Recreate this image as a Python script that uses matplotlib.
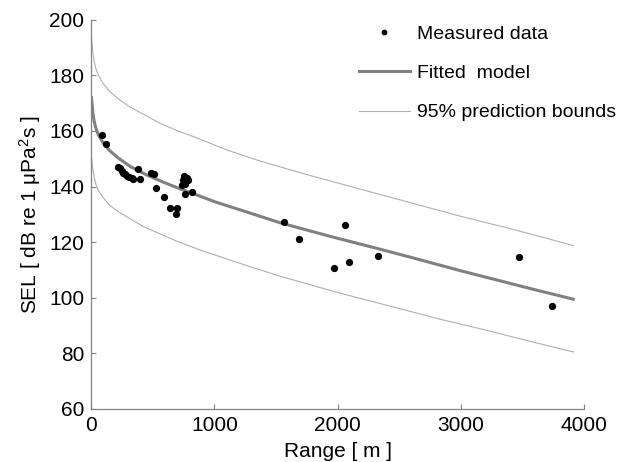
import matplotlib
matplotlib.use('Agg')
import matplotlib.pyplot as plt

# measured data (range m, SEL dB)
meas_range = [87, 122, 221, 235, 249, 262, 276, 289, 311, 330, 343, 378, 400,
              487, 511, 530, 595, 638, 700, 692, 738, 743, 754, 762, 765, 770,
              776, 786, 816, 1565, 1689, 1970, 2062, 2089, 2324, 3468, 3738]
meas_sel = [158.7, 155.3, 147.2, 146.6, 145.7, 145.0, 144.4, 143.8, 143.3, 143.0,
            142.9, 146.3, 142.6, 144.8, 144.5, 139.5, 136.4, 132.4, 132.2, 130.0,
            140.6, 142.4, 143.7, 137.4, 140.9, 142.6, 143.0, 142.4, 138.2, 127.3,
            121.3, 110.7, 126.1, 113.0, 115.0, 114.8, 97.1]

# fitted model
fit_range = [3, 8, 15, 25, 40, 60, 100, 150, 220, 316, 451, 586, 722, 870, 1000,
             1289, 1532, 1965, 2300, 2641, 2992, 3300, 3600, 3911]
fit_sel = [172.0, 170.0, 166.6, 163.6, 161.0, 158.6, 155.6, 153.0, 150.3, 147.3,
           144.2, 141.6, 139.2, 136.8, 134.6, 130.5, 127.0, 121.8, 118.0, 114.0,
           109.8, 106.3, 102.9, 99.5]

# 95% prediction bounds
up_range = [3, 8, 15, 25, 40, 60, 100, 150, 220, 316, 451, 559, 700, 830, 1100,
            1370, 1776, 2100, 2424, 2992, 3450, 3911]
up_sel = [194.0, 191.5, 188.3, 185.2, 182.4, 180.0, 177.0, 174.3, 171.6, 168.6,
          165.4, 162.8, 160.1, 158.0, 153.2, 149.2, 144.0, 140.1, 136.2, 129.4,
          124.3, 118.8]
lo_range = [3, 8, 15, 25, 40, 60, 100, 150, 220, 289, 424, 559, 700, 884, 1289,
            1532, 2000, 2400, 2830, 3181, 3500, 3803, 3911]
lo_sel = [150.8, 149.0, 146.3, 143.5, 140.8, 138.5, 136.0, 133.3, 131.0, 129.2,
          125.6, 123.0, 120.3, 117.2, 111.2, 107.8, 101.9, 97.3, 92.3, 88.6,
          85.0, 81.7, 80.5]

plt.rcParams['font.family'] = ['Liberation Sans', 'DejaVu Sans']
plt.rcParams['mathtext.default'] = 'regular'

fig = plt.figure(figsize=(6.17, 4.62), dpi=100)
ax = fig.add_axes([91 / 617, 1 - 409 / 462, (584.3 - 91) / 617, (409 - 19.8) / 462])

ax.plot(meas_range, meas_sel, 'o', color='black', markersize=4.2, label='Measured data', zorder=3)
ax.plot(fit_range, fit_sel, color='#808080', lw=2.2, label='Fitted  model', zorder=2)
ax.plot(up_range, up_sel, color='#b0b0b0', lw=0.8, label='95% prediction bounds')
ax.plot(lo_range, lo_sel, color='#b0b0b0', lw=0.8)

ax.set_xlim(0, 4000)
ax.set_ylim(60, 200)
ax.set_xticks([0, 1000, 2000, 3000, 4000])
ax.set_yticks(range(60, 201, 20))

for s in ['top', 'right']:
    ax.spines[s].set_visible(False)
for s in ['left', 'bottom']:
    ax.spines[s].set_color('#808080')
    ax.spines[s].set_linewidth(0.9)
ax.tick_params(direction='in', length=3.4, color='#808080', labelsize=15, pad=5)

ax.set_xlabel('Range [ m ]', fontsize=15, labelpad=5)
ax.set_ylabel('SEL [ dB re 1 μPa$^2$s ]', fontsize=15, labelpad=4)

leg = ax.legend(loc='upper left', bbox_to_anchor=(359 / 617, 1 - 25 / 462),
                bbox_transform=fig.transFigure, frameon=False, fontsize=14,
                handlelength=2.6, handletextpad=0.4, labelspacing=1.12,
                borderpad=0, borderaxespad=0, markerscale=0.75)

fig.savefig('out.png', dpi=100)
